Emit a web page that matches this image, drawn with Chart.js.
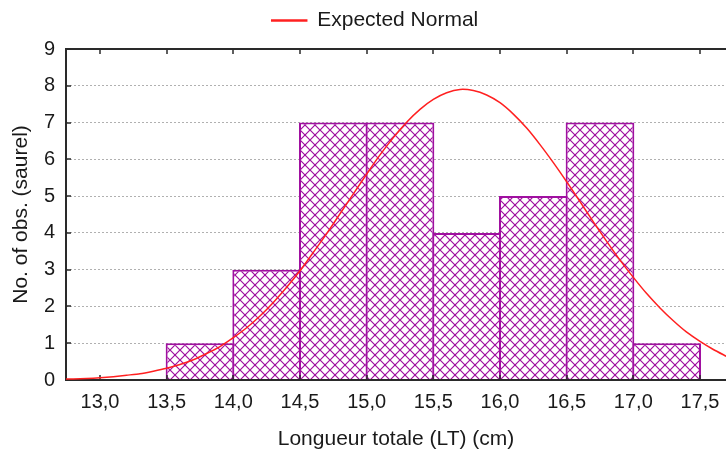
<!DOCTYPE html>
<html>
<head>
<meta charset="utf-8">
<script src="https://cdn.jsdelivr.net/npm/chart.js@4.4.1/dist/chart.umd.min.js"></script>
<style>
  body { margin: 0; background: #fff; }
  #wrap { width: 726px; height: 453px; position: relative; }
</style>
</head>
<body>
<div id="wrap"><canvas id="histo"></canvas></div>
<script>
// classes de longueur (centre) et effectifs
const binCenters = [13.75, 14.25, 14.75, 15.25, 15.75, 16.25, 16.75, 17.25];
const counts = [1, 3, 7, 7, 4, 5, 7, 1];

// courbe normale attendue
const normX = [12.7, 12.8, 12.9, 13.0, 13.1, 13.2, 13.3, 13.4, 13.5, 13.6, 13.7, 13.8, 13.9,
  14.0, 14.1, 14.2, 14.3, 14.4, 14.5, 14.6, 14.7, 14.8, 14.9, 15.0, 15.1, 15.2, 15.3, 15.4,
  15.5, 15.6, 15.7, 15.8, 15.9, 16.0, 16.1, 16.2, 16.3, 16.4, 16.5, 16.6, 16.7, 16.8, 16.9,
  17.0, 17.1, 17.2, 17.3, 17.4, 17.5, 17.6, 17.7];
const normY = [0.02, 0.03, 0.04, 0.06, 0.09, 0.13, 0.17, 0.24, 0.32, 0.42, 0.55, 0.72, 0.91,
  1.15, 1.42, 1.74, 2.11, 2.52, 2.97, 3.47, 3.98, 4.52, 5.06, 5.60, 6.12, 6.59, 7.01, 7.36,
  7.63, 7.81, 7.90, 7.87, 7.75, 7.54, 7.23, 6.85, 6.40, 5.91, 5.39, 4.85, 4.30, 3.77, 3.26,
  2.79, 2.35, 1.96, 1.61, 1.30, 1.05, 0.83, 0.64];

const xTicks = [13.0, 13.5, 14.0, 14.5, 15.0, 15.5, 16.0, 16.5, 17.0, 17.5];
const yTicks = [0, 1, 2, 3, 4, 5, 6, 7, 8, 9];

const PURPLE = '#a010a0';
const AXIS = '#2a2a2a';

Chart.defaults.font.family = 'Arial, "Liberation Sans", sans-serif';
Chart.defaults.color = '#1a1a1a';

// motif quadrillé en diagonale pour les barres
function hatch(color, size) {
  const c = document.createElement('canvas');
  c.width = c.height = size;
  const g = c.getContext('2d');
  g.fillStyle = '#fff';
  g.fillRect(0, 0, size, size);
  g.strokeStyle = color;
  g.lineWidth = 1.2;
  g.beginPath();
  g.moveTo(0, 0); g.lineTo(size, size);
  g.moveTo(size, 0); g.lineTo(0, size);
  g.stroke();
  g.fillStyle = color;
  g.fillRect(size / 2 - 1, size / 2 - 1, 2, 2);
  return g.createPattern(c, 'repeat');
}

// cadre + graduations intérieures, dessinés entre les barres et la courbe
const frame = {
  id: 'frame',
  beforeInit(chart) {
    const fit = chart.legend.fit;
    chart.legend.fit = function () { fit.call(this); this.height = 49; };
  },
  afterLayout(chart) {
    chart.legend.left += 12;
    chart.legend.right += 12;
  },
  afterDatasetDraw(chart, args) {
    if (args.meta.type !== 'bar') return;
    const { ctx, chartArea: a, scales: { x, y } } = chart;
    ctx.save();
    ctx.strokeStyle = AXIS;
    ctx.lineWidth = 2;
    ctx.beginPath();
    ctx.moveTo(a.right, a.top);
    ctx.lineTo(a.left, a.top);
    ctx.lineTo(a.left, a.bottom);
    ctx.lineTo(a.right, a.bottom);
    ctx.stroke();
    ctx.lineWidth = 1.5;
    ctx.beginPath();
    xTicks.forEach(v => {
      const px = Math.round(x.getPixelForValue(v));
      ctx.moveTo(px, a.top); ctx.lineTo(px, a.top + 5);
      ctx.moveTo(px, a.bottom); ctx.lineTo(px, a.bottom - 5);
    });
    yTicks.forEach(v => {
      const py = Math.round(y.getPixelForValue(v));
      ctx.moveTo(a.left, py); ctx.lineTo(a.left + 5, py);
    });
    ctx.stroke();
    ctx.restore();
  }
};

new Chart(document.getElementById('histo'), {
  type: 'bar',
  data: {
    datasets: [{
      label: 'saurel',
      data: binCenters.map((c, i) => ({ x: c, y: counts[i] })),
      backgroundColor: hatch(PURPLE, 10),
      borderColor: PURPLE,
      borderWidth: 2,
      barPercentage: 1.03,
      categoryPercentage: 1,
      order: 1
    }, {
      type: 'line',
      label: 'Expected Normal',
      data: normX.map((v, i) => ({ x: v, y: normY[i] })),
      borderColor: '#ff2020',
      backgroundColor: '#ff2020',
      borderWidth: 1.5,
      pointRadius: 0,
      tension: 0.2,
      order: 0
    }]
  },
  options: {
    responsive: true,
    maintainAspectRatio: false,
    animation: false,
    events: [],
    plugins: {
      tooltip: { enabled: false },
      legend: {
        position: 'top',
        labels: {
          filter: item => item.text === 'Expected Normal',
          boxWidth: 35,
          boxHeight: 1,
          padding: 10,
          font: { size: 21 }
        }
      }
    },
    scales: {
      x: {
        type: 'linear',
        min: 12.745,
        max: 17.695,
        offset: false,
        grid: { display: false, offset: false },
        border: { display: false },
        afterBuildTicks: s => { s.ticks = xTicks.map(v => ({ value: v })); },
        afterFit: s => { s.height = 73; },
        ticks: {
          font: { size: 20 },
          padding: 2,
          maxRotation: 0,
          callback: v => v.toFixed(1).replace('.', ',')
        },
        title: {
          display: true,
          text: 'Longueur totale (LT) (cm)',
          font: { size: 21 },
          padding: { top: 0, bottom: 1 }
        }
      },
      y: {
        min: 0,
        max: 9,
        grid: { color: '#b0b0b0', lineWidth: 1, drawTicks: false },
        border: { display: false, dash: [2, 2] },
        afterBuildTicks: s => { s.ticks = yTicks.map(v => ({ value: v })); },
        afterFit: s => { s.width = 66; },
        ticks: { font: { size: 20 }, padding: 11 },
        title: {
          display: true,
          text: 'No. of obs. (saurel)',
          font: { size: 21 },
          padding: { top: 9, bottom: 0 }
        }
      }
    }
  },
  plugins: [frame]
});
</script>
</body>
</html>
